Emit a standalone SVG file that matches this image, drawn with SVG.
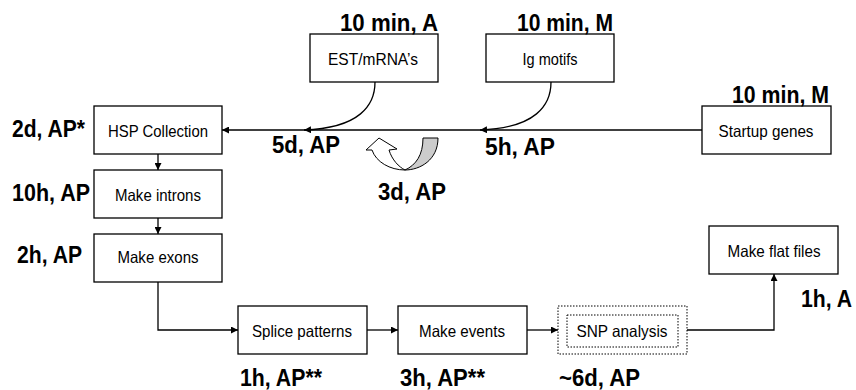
<svg xmlns="http://www.w3.org/2000/svg" width="856" height="390" viewBox="0 0 856 390">
<style>
.box{fill:#fff;stroke:#000;stroke-width:1.3}
.dot{fill:none;stroke:#000;stroke-width:1;stroke-dasharray:1.5 1.5}
.t{font-family:"Liberation Sans",Arial,sans-serif;font-size:16.5px;text-anchor:middle;fill:#000}
.lb{font-family:"Liberation Sans",Arial,sans-serif;font-size:23px;font-weight:bold;fill:#000}
.c{fill:none;stroke:#000;stroke-width:1.3}
</style>
<defs>
<marker id="ah" viewBox="0 0 10 10" refX="10" refY="5" markerWidth="7" markerHeight="7" markerUnits="userSpaceOnUse" orient="auto">
<path d="M0,0 L10,5 L0,10 Z" fill="#000"/>
</marker>
</defs>
<rect width="856" height="390" fill="#fff"/>
<g id="connectors">
<path class="c" d="M702,130 H222" marker-end="url(#ah)"/>
<path class="c" d="M375,82 C375,105 360,128 304,130" marker-end="url(#ah)"/>
<path class="c" d="M551,82 C551,105 536,128 480,130" marker-end="url(#ah)"/>
<path class="c" d="M158,154 V170" marker-end="url(#ah)"/>
<path class="c" d="M158,218 V234" marker-end="url(#ah)"/>
<path class="c" d="M158,282 V330 H238" marker-end="url(#ah)"/>
<path class="c" d="M367,330 H398" marker-end="url(#ah)"/>
<path class="c" d="M527,330 H558" marker-end="url(#ah)"/>
<path class="c" d="M687,330 H774 V274" marker-end="url(#ah)"/>
<g id="uturn" stroke="#000" stroke-width="1">
<path d="M405,170 C420,170 438,160 438,138 L423,138 C423,155 416,165 405,170 Z" fill="#cccccc"/>
<path d="M405,170 C390,170 376,162 372,150 L366,150 L379,138 L397,149 L389,150 C392,160 399,167 405,170 Z" fill="#fff"/>
</g>
</g>
<g id="est"><rect class="box" x="310" y="34" width="128" height="48"/><text class="t" x="373" y="65" textLength="90" lengthAdjust="spacingAndGlyphs">EST/mRNA’s</text><text class="lb" x="340" y="31" textLength="98" lengthAdjust="spacingAndGlyphs">10 min, A</text></g>
<g id="ig"><rect class="box" x="486" y="34" width="128" height="48"/><text class="t" x="550" y="65" textLength="55" lengthAdjust="spacingAndGlyphs">Ig motifs</text><text class="lb" x="517" y="31" textLength="96" lengthAdjust="spacingAndGlyphs">10 min, M</text></g>
<g id="startup"><rect class="box" x="702" y="106" width="129" height="48"/><text class="t" x="766" y="137" textLength="95" lengthAdjust="spacingAndGlyphs">Startup genes</text><text class="lb" x="732" y="103" textLength="97" lengthAdjust="spacingAndGlyphs">10 min, M</text></g>
<g id="hsp"><rect class="box" x="94" y="106" width="128" height="48"/><text class="t" x="158" y="137" textLength="100" lengthAdjust="spacingAndGlyphs">HSP Collection</text><text class="lb" x="12" y="137" textLength="73" lengthAdjust="spacingAndGlyphs">2d, AP*</text></g>
<g id="introns"><rect class="box" x="94" y="170" width="128" height="48"/><text class="t" x="158" y="201" textLength="86" lengthAdjust="spacingAndGlyphs">Make introns</text><text class="lb" x="12" y="201" textLength="78" lengthAdjust="spacingAndGlyphs">10h, AP</text></g>
<g id="exons"><rect class="box" x="94" y="234" width="128" height="48"/><text class="t" x="158" y="263" textLength="81" lengthAdjust="spacingAndGlyphs">Make exons</text><text class="lb" x="17" y="263" textLength="65" lengthAdjust="spacingAndGlyphs">2h, AP</text></g>
<g id="splice"><rect class="box" x="238" y="306" width="129" height="48"/><text class="t" x="302" y="337" textLength="100" lengthAdjust="spacingAndGlyphs">Splice patterns</text><text class="lb" x="240" y="386" textLength="82" lengthAdjust="spacingAndGlyphs">1h, AP**</text></g>
<g id="events"><rect class="box" x="398" y="306" width="129" height="48"/><text class="t" x="462" y="337" textLength="86" lengthAdjust="spacingAndGlyphs">Make events</text><text class="lb" x="400" y="386" textLength="85" lengthAdjust="spacingAndGlyphs">3h, AP**</text></g>
<g id="snp"><rect class="dot" x="558" y="306" width="129" height="48"/><rect class="dot" x="567" y="315" width="111" height="32"/><text class="t" x="622" y="337" textLength="91" lengthAdjust="spacingAndGlyphs">SNP analysis</text><text class="lb" x="559" y="386" textLength="81" lengthAdjust="spacingAndGlyphs">~6d, AP</text></g>
<g id="flat"><rect class="box" x="709" y="226" width="129" height="48"/><text class="t" x="774" y="257" textLength="93" lengthAdjust="spacingAndGlyphs">Make flat files</text><text class="lb" x="801" y="307" textLength="51" lengthAdjust="spacingAndGlyphs">1h, A</text></g>
<g id="edge-labels">
<text class="lb" x="272" y="153" textLength="68" lengthAdjust="spacingAndGlyphs">5d, AP</text>
<text class="lb" x="485" y="155" textLength="70" lengthAdjust="spacingAndGlyphs">5h, AP</text>
<text class="lb" x="378" y="200" textLength="68" lengthAdjust="spacingAndGlyphs">3d, AP</text>
</g>
</svg>
